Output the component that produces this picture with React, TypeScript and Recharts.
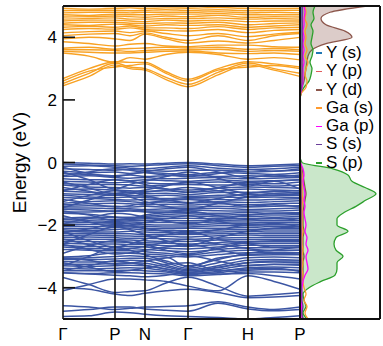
import React from 'react';
import { LineChart, Line, XAxis, YAxis, ReferenceLine, ComposedChart, Area, Legend, Label } from 'recharts';

const FONT = '"Liberation Sans", Arial, sans-serif';

// k-path sample positions (relative k-distance) and high-symmetry points
const kPoints = [0, 26, 52, 67, 82, 103, 125, 155, 185, 211, 237];
const kTicks = [0, 52, 82, 125, 185, 237];
const kLabels = ['Γ', 'P', 'N', 'Γ', 'H', 'P'];
const energyTicks = [-4, -2, 0, 2, 4];

// valence bands (eV) at kPoints
const valenceBands = [
  [0.00, -0.02, -0.05, -0.04, -0.05, -0.02, 0.00, -0.05, -0.10, -0.08, -0.05],
  [-0.05, -0.08, -0.10, -0.12, -0.10, -0.06, -0.04, -0.10, -0.15, -0.12, -0.10],
  [-0.12, -0.10, -0.15, -0.18, -0.20, -0.15, -0.10, -0.18, -0.22, -0.20, -0.15],
  [-0.20, -0.22, -0.25, -0.22, -0.25, -0.28, -0.25, -0.25, -0.30, -0.28, -0.25],
  [-0.28, -0.32, -0.30, -0.35, -0.32, -0.35, -0.38, -0.32, -0.35, -0.38, -0.33],
  [-0.35, -0.38, -0.42, -0.40, -0.45, -0.42, -0.40, -0.45, -0.42, -0.45, -0.40],
  [-0.45, -0.42, -0.48, -0.50, -0.48, -0.52, -0.50, -0.48, -0.52, -0.50, -0.48],
  [-0.52, -0.55, -0.55, -0.58, -0.55, -0.58, -0.60, -0.55, -0.60, -0.58, -0.55],
  [-0.60, -0.62, -0.65, -0.62, -0.65, -0.68, -0.65, -0.62, -0.65, -0.68, -0.62],
  [-0.68, -0.70, -0.70, -0.72, -0.75, -0.72, -0.70, -0.72, -0.70, -0.75, -0.72],
  [-0.72, -0.78, -0.80, -0.82, -0.80, -0.85, -0.88, -0.82, -0.78, -0.80, -0.82],
  [-0.88, -0.85, -0.88, -0.90, -0.92, -0.90, -0.95, -0.90, -0.85, -0.88, -0.90],
  [-0.92, -0.95, -0.98, -0.96, -1.00, -0.98, -1.02, -0.96, -0.95, -0.98, -0.96],
  [-1.00, -1.02, -1.05, -1.05, -1.08, -1.05, -1.08, -1.05, -1.02, -1.05, -1.05],
  [-1.05, -1.10, -1.12, -1.10, -1.12, -1.15, -1.12, -1.10, -1.12, -1.10, -1.12],
  [-1.12, -1.15, -1.18, -1.20, -1.18, -1.20, -1.16, -1.18, -1.20, -1.18, -1.16],
  [-1.30, -1.25, -1.22, -1.25, -1.28, -1.26, -1.30, -1.25, -1.28, -1.25, -1.22],
  [-1.35, -1.32, -1.30, -1.32, -1.35, -1.33, -1.36, -1.32, -1.35, -1.32, -1.30],
  [-1.40, -1.38, -1.40, -1.42, -1.40, -1.42, -1.42, -1.40, -1.42, -1.40, -1.38],
  [-1.45, -1.45, -1.48, -1.48, -1.50, -1.48, -1.48, -1.46, -1.50, -1.48, -1.45],
  [-1.50, -1.52, -1.55, -1.52, -1.55, -1.55, -1.52, -1.54, -1.55, -1.55, -1.52],
  [-1.58, -1.58, -1.56, -1.55, -1.58, -1.60, -1.60, -1.62, -1.60, -1.62, -1.60],
  [-1.62, -1.65, -1.74, -1.75, -1.72, -1.66, -1.64, -1.68, -1.66, -1.68, -1.66],
  [-1.78, -1.75, -1.76, -1.78, -1.76, -1.72, -1.70, -1.74, -1.72, -1.75, -1.72],
  [-1.82, -1.80, -1.82, -1.82, -1.80, -1.78, -1.78, -1.80, -1.78, -1.80, -1.78],
  [-1.88, -1.86, -1.88, -1.86, -1.85, -1.85, -1.86, -1.85, -1.84, -1.86, -1.85],
  [-1.94, -1.92, -1.92, -1.90, -1.92, -1.92, -1.92, -1.90, -1.90, -1.92, -1.92],
  [-2.00, -1.98, -1.96, -1.96, -1.98, -2.00, -2.00, -1.96, -1.96, -1.98, -1.98],
  [-2.04, -2.05, -2.02, -2.02, -2.04, -2.06, -2.06, -2.02, -2.02, -2.04, -2.04],
  [-2.10, -2.12, -2.08, -2.06, -2.10, -2.12, -2.10, -2.10, -2.08, -2.10, -2.10],
  [-2.15, -2.18, -2.14, -2.12, -2.16, -2.18, -2.18, -2.16, -2.14, -2.16, -2.16],
  [-2.20, -2.22, -2.22, -2.20, -2.22, -2.24, -2.24, -2.22, -2.20, -2.22, -2.22],
  [-2.28, -2.26, -2.28, -2.28, -2.30, -2.30, -2.30, -2.28, -2.26, -2.28, -2.28],
  [-2.34, -2.32, -2.34, -2.35, -2.36, -2.36, -2.38, -2.34, -2.32, -2.34, -2.34],
  [-2.40, -2.38, -2.40, -2.42, -2.42, -2.44, -2.45, -2.42, -2.40, -2.40, -2.40],
  [-2.46, -2.45, -2.46, -2.48, -2.50, -2.52, -2.52, -2.48, -2.46, -2.46, -2.46],
  [-2.52, -2.52, -2.54, -2.55, -2.56, -2.58, -2.60, -2.56, -2.52, -2.52, -2.52],
  [-2.58, -2.60, -2.60, -2.62, -2.62, -2.66, -2.68, -2.62, -2.58, -2.58, -2.58],
  [-2.64, -2.68, -2.68, -2.68, -2.70, -2.74, -2.76, -2.70, -2.64, -2.65, -2.65],
  [-2.70, -2.75, -2.76, -2.75, -2.78, -2.82, -2.85, -2.78, -2.72, -2.72, -2.72],
  [-2.78, -2.80, -2.82, -2.82, -2.85, -2.90, -2.95, -2.86, -2.80, -2.80, -2.80],
  [-3.02, -2.98, -2.88, -2.90, -2.92, -2.96, -3.02, -2.94, -2.88, -2.88, -2.88],
  [-3.06, -3.04, -3.00, -2.98, -3.00, -3.02, -3.34, -3.05, -2.96, -2.95, -2.95],
  [-3.10, -3.10, -3.08, -3.06, -3.06, -3.20, -3.38, -3.20, -3.04, -3.02, -3.04],
  [-3.16, -3.18, -3.15, -3.12, -3.14, -3.28, -3.42, -3.30, -3.12, -3.10, -3.12],
  [-3.24, -3.25, -3.22, -3.20, -3.22, -3.34, -3.46, -3.36, -3.20, -3.18, -3.20],
  [-3.30, -3.32, -3.30, -3.28, -3.30, -3.40, -3.50, -3.42, -3.28, -3.26, -3.28],
  [-3.38, -3.40, -3.38, -3.36, -3.38, -3.46, -3.54, -3.48, -3.36, -3.34, -3.36],
  [-3.46, -3.46, -3.45, -3.44, -3.46, -3.50, -3.58, -3.52, -3.44, -3.42, -3.44],
  [-3.52, -3.55, -3.52, -3.52, -3.54, -3.56, -3.62, -3.58, -3.50, -3.50, -3.52],
  [-0.30, -0.55, -0.85, -0.70, -0.60, -0.45, -0.30, -0.50, -0.75, -0.60, -0.85],
  [-1.45, -1.20, -1.00, -1.10, -1.25, -1.40, -1.50, -1.30, -1.10, -1.05, -1.00],
  [-2.20, -2.50, -2.70, -2.60, -2.45, -2.30, -2.20, -2.45, -2.60, -2.70, -2.70],
  [-3.30, -3.00, -2.70, -2.80, -2.95, -3.15, -3.30, -3.10, -2.90, -2.80, -2.70],
  [-0.90, -0.70, -0.55, -0.60, -0.70, -0.85, -0.95, -0.80, -0.65, -0.60, -0.55],
  [-2.60, -2.30, -2.05, -2.15, -2.30, -2.50, -2.65, -2.40, -2.20, -2.10, -2.05],
  [-0.15, -0.35, -0.45, -0.38, -0.30, -0.20, -0.15, -0.30, -0.48, -0.40, -0.45],
  [-1.25, -1.05, -0.90, -0.95, -1.05, -1.20, -1.28, -1.15, -0.98, -0.92, -0.90],
  [-1.70, -1.90, -2.05, -2.00, -1.92, -1.80, -1.70, -1.88, -2.00, -1.95, -2.05],
  [-2.90, -2.65, -2.50, -2.55, -2.62, -2.80, -2.92, -2.75, -2.55, -2.50, -2.50],
  [-3.45, -3.30, -3.15, -3.20, -3.28, -3.40, -3.52, -3.35, -3.20, -3.15, -3.15],
  [-0.62, -0.82, -1.00, -0.95, -0.88, -0.75, -0.62, -0.80, -0.98, -0.92, -1.00],
  [-0.80, -0.92, -1.05, -1.00, -0.95, -0.88, -0.80, -0.90, -1.08, -1.00, -1.05],
  [-1.18, -1.30, -1.42, -1.38, -1.30, -1.22, -1.18, -1.28, -1.40, -1.35, -1.42],
  [-1.55, -1.68, -1.85, -1.80, -1.68, -1.60, -1.55, -1.70, -1.82, -1.78, -1.85],
  [-2.25, -2.12, -1.98, -2.02, -2.10, -2.20, -2.28, -2.15, -2.00, -1.98, -1.98],
  [-2.62, -2.78, -2.92, -2.88, -2.80, -2.70, -2.62, -2.78, -2.95, -2.90, -2.92],
  [-3.20, -3.35, -3.48, -3.45, -3.38, -3.25, -3.20, -3.45, -3.40, -3.38, -3.48],
  [-0.42, -0.30, -0.20, -0.25, -0.32, -0.40, -0.45, -0.35, -0.22, -0.28, -0.20],
  [-1.95, -1.78, -1.62, -1.65, -1.75, -1.88, -1.96, -1.82, -1.68, -1.62, -1.62],
  [-2.45, -2.62, -2.80, -2.75, -2.68, -2.55, -2.45, -2.60, -2.75, -2.82, -2.80],
  [-3.05, -3.12, -3.25, -3.22, -3.15, -3.05, -2.98, -3.15, -3.30, -3.25, -3.25],
  [-3.67, -3.90, -4.15, -4.12, -4.10, -3.85, -3.67, -3.95, -4.27, -4.22, -4.15],
  [-4.10, -3.90, -3.72, -3.72, -3.75, -3.80, -3.95, -4.10, -3.62, -3.80, -4.05],
  [-3.52, -3.56, -3.60, -3.62, -3.65, -3.60, -3.52, -3.56, -3.55, -3.62, -3.72],
  [-4.00, -4.05, -4.20, -4.25, -4.18, -4.10, -4.05, -4.15, -4.32, -4.30, -4.25],
  [-4.58, -4.62, -4.70, -4.66, -4.62, -4.60, -4.58, -4.45, -4.62, -4.70, -4.62],
  [-4.75, -4.70, -4.62, -4.62, -4.68, -4.72, -4.75, -4.50, -4.68, -4.74, -4.70],
  [-4.92, -4.90, -4.78, -4.80, -4.85, -4.90, -4.92, -4.95, -5.00, -4.95, -4.90],
];

// conduction bands (eV) at kPoints
const conductionBands = [
  [2.45, 2.75, 3.12, 3.00, 2.95, 2.65, 2.42, 2.80, 3.12, 2.95, 2.75],
  [2.52, 2.85, 3.18, 3.05, 3.00, 2.72, 2.50, 2.88, 3.18, 3.00, 2.85],
  [2.60, 2.92, 3.05, 3.10, 3.15, 2.85, 2.60, 2.95, 3.05, 3.10, 3.00],
  [2.68, 3.00, 3.22, 3.20, 3.20, 2.90, 2.66, 3.00, 3.22, 3.15, 3.05],
  [3.50, 3.40, 3.20, 3.35, 3.30, 3.45, 3.52, 3.45, 3.30, 3.35, 3.28],
  [3.55, 3.52, 3.50, 3.50, 3.52, 3.55, 3.56, 3.50, 3.48, 3.50, 3.45],
  [3.60, 3.60, 3.58, 3.55, 3.58, 3.60, 3.60, 3.62, 3.55, 3.58, 3.55],
  [3.65, 3.68, 3.62, 3.64, 3.66, 3.68, 3.66, 3.68, 3.62, 3.64, 3.60],
  [3.86, 3.80, 3.72, 3.78, 3.80, 3.72, 3.70, 3.75, 3.75, 3.70, 3.68],
  [3.95, 4.00, 3.95, 3.90, 4.10, 3.95, 3.82, 3.88, 3.82, 3.90, 4.00],
  [4.05, 4.10, 4.12, 4.05, 4.14, 4.00, 3.90, 4.05, 3.90, 4.05, 4.12],
  [4.14, 4.18, 4.20, 4.15, 4.20, 4.12, 4.05, 4.12, 4.02, 4.10, 4.16],
  [4.25, 4.28, 4.26, 4.30, 4.25, 4.22, 4.20, 4.25, 4.15, 4.22, 4.25],
  [4.32, 4.35, 4.32, 4.36, 4.30, 4.30, 4.28, 4.34, 4.25, 4.30, 4.32],
  [4.40, 4.38, 4.42, 4.40, 4.36, 4.40, 4.38, 4.40, 4.32, 4.36, 4.40],
  [4.45, 4.48, 4.48, 4.45, 4.44, 4.46, 4.45, 4.48, 4.40, 4.44, 4.46],
  [4.52, 4.55, 4.55, 4.52, 4.50, 4.55, 4.52, 4.55, 4.50, 4.52, 4.52],
  [4.58, 4.60, 4.62, 4.58, 4.58, 4.60, 4.60, 4.62, 4.58, 4.60, 4.58],
  [4.65, 4.66, 4.68, 4.66, 4.64, 4.68, 4.66, 4.70, 4.64, 4.66, 4.65],
  [4.72, 4.70, 4.74, 4.72, 4.72, 4.74, 4.74, 4.76, 4.72, 4.72, 4.72],
  [4.78, 4.80, 4.80, 4.78, 4.80, 4.80, 4.80, 4.82, 4.78, 4.80, 4.78],
  [4.85, 4.86, 4.86, 4.85, 4.86, 4.88, 4.86, 4.88, 4.85, 4.86, 4.86],
  [4.92, 4.90, 4.92, 4.94, 4.92, 4.94, 4.93, 4.95, 4.92, 4.92, 4.92],
  [4.98, 5.00, 4.98, 5.00, 4.98, 5.00, 4.98, 5.02, 4.98, 5.00, 4.98],
];

// projected DOS (energy grid, eV) and components
const dosEnergy = [-5.0, -4.8, -4.6, -4.4, -4.2, -4.0, -3.8, -3.6, -3.4, -3.2, -3.0, -2.8, -2.6, -2.4, -2.2, -2.0, -1.8, -1.6, -1.4, -1.2, -1.0, -0.8, -0.6, -0.4, -0.2, 0.0, 0.2, 0.4, 0.6, 0.8, 1.0, 1.2, 1.4, 1.6, 1.8, 2.0, 2.2, 2.4, 2.6, 2.8, 3.0, 3.2, 3.4, 3.6, 3.8, 4.0, 4.2, 4.4, 4.6, 4.8, 5.0];
const dosYs = [0.6, 0.5, 0.6, 0.5, 0.5, 0.6, 0.7, 0.8, 0.8, 0.7, 0.8, 0.7, 0.7, 0.8, 0.8, 0.7, 0.7, 0.7, 0.8, 0.8, 0.9, 0.8, 0.7, 0.6, 0.5, 0.2, 0, 0, 0, 0, 0, 0, 0, 0, 0, 0, 0.2, 0.6, 0.8, 0.8, 0.9, 0.9, 1.0, 1.0, 1.1, 1.0, 1.1, 1.0, 1.1, 1.2, 1.1];
const dosYp = [1.0, 0.8, 1.0, 0.8, 0.8, 1.0, 1.2, 1.4, 1.4, 1.3, 1.5, 1.3, 1.3, 1.4, 1.5, 1.3, 1.3, 1.3, 1.5, 1.6, 1.8, 1.6, 1.4, 1.2, 1.0, 0.3, 0, 0, 0, 0, 0, 0, 0, 0, 0, 0, 0.3, 1.2, 1.6, 1.8, 2.0, 2.0, 2.2, 2.2, 2.4, 2.2, 2.4, 2.2, 2.4, 2.5, 2.4];
const dosYd = [3, 2, 2, 1, 1, 1, 2, 3, 3, 3, 4, 3, 3, 3, 4, 3, 3, 3, 4, 5, 6, 5, 4, 3, 2, 0.5, 0, 0, 0, 0, 0, 0, 0, 0, 0, 0, 1, 2, 4, 5, 6, 7, 8, 12, 26, 52, 45, 26, 21, 30, 67];
const dosGas = [8, 5, 7, 4, 6, 4, 3, 3, 2, 3, 2, 3, 2, 2, 3, 2, 2, 2, 2, 3, 2, 2, 2, 2, 1, 0.3, 0, 0, 0, 0, 0, 0, 0, 0, 0, 0, 1, 6, 7, 5, 6, 8, 5, 7, 5, 6, 5, 7, 5, 6, 5];
const dosGap = [1, 1, 1.5, 1, 1.5, 2, 3, 5, 8, 7, 6, 8, 6, 7, 5, 6, 5, 4, 5, 4, 5, 4, 3, 4, 3, 0.5, 0, 0, 0, 0, 0, 0, 0, 0, 0, 0, 0.5, 2, 3, 3, 3, 4, 3, 4, 3, 4, 3, 4, 4, 5, 4];
const dosSs = [3, 2, 3, 2, 2, 1.5, 1, 1, 1, 1, 1, 1, 1, 1, 1, 1, 1, 1, 1, 1, 1, 1, 1, 1, 0.8, 0.3, 0, 0, 0, 0, 0, 0, 0, 0, 0, 0, 0.3, 1.5, 2, 2, 2.2, 2, 2.2, 2, 2.2, 2.4, 2.2, 2.4, 2.2, 2.5, 2.4];
const dosSp = [7, 3, 6, 4, 3, 9, 21, 35, 37, 37, 43, 36, 34, 36, 48, 37, 37, 44, 56, 66, 76, 65, 52, 48, 33, 2, 0, 0, 0, 0, 0, 0, 0, 0, 0, 0, 1, 4, 9, 11, 12, 10, 12, 13, 11, 12, 13, 11, 14, 13, 15];

const pdosNames = ['Y (s)', 'Y (p)', 'Y (d)', 'Ga (s)', 'Ga (p)', 'S (s)', 'S (p)'];
const pdosKeys = ['ys', 'yp', 'yd', 'gas', 'gap', 'ss', 'sp'];
const pdosColors = ['#1f77b4', '#e05a5a', '#8c564b', '#ff9a2e', '#ff00ff', '#6a3d9a', '#2ca02c'];
const pdosValues = [dosYs, dosYp, dosYd, dosGas, dosGap, dosSs, dosSp];

const VB_COLOR = '#3b55a3';
const CB_COLOR = '#f8a224';
const FRAME = '#111';

const bandRows = kPoints.map((k, i) => {
  const row: Record<string, number> = { k };
  valenceBands.forEach((b, j) => { row['v' + j] = b[i]; });
  conductionBands.forEach((b, j) => { row['c' + j] = b[i]; });
  return row;
});

const dosRows = dosEnergy.map((e, i) => {
  const row: Record<string, number> = { e };
  pdosKeys.forEach((key, j) => { row[key] = pdosValues[j][i]; });
  return row;
});

const fmtE = (v: number) => (v < 0 ? '\u2212' + Math.abs(v) : String(v));

const LeftTick = (props: any) => {
  const { x, y, payload } = props;
  return (
    <g>
      <line x1={x} x2={x + 12} y1={y} y2={y} stroke={FRAME} strokeWidth={1.6} />
      <text x={x - 6} y={y} dy="0.36em" textAnchor="end" fontSize={17} fontFamily={FONT} fill="#000">
        {fmtE(payload.value)}
      </text>
    </g>
  );
};

const RightTick = (props: any) => {
  const { x, y } = props;
  return <line x1={x - 12} x2={x} y1={y} y2={y} stroke={FRAME} strokeWidth={1.6} />;
};

const DosTick = (props: any) => {
  const { x, y } = props;
  return <line x1={x} x2={x + 14} y1={y} y2={y} stroke={FRAME} strokeWidth={1.6} />;
};

const BottomTick = (props: any) => {
  const { x, y, payload } = props;
  const idx = kTicks.indexOf(payload.value);
  return (
    <text x={x} y={y + 21} textAnchor="middle" fontSize={17} fontFamily={FONT} fill="#000">
      {kLabels[idx]}
    </text>
  );
};

const renderLegend = () => (
  <div style={{ fontFamily: FONT, fontSize: 17, lineHeight: '18.3px', color: '#000' }}>
    {pdosNames.map((n, i) => (
      <div key={n} style={{ display: 'flex', alignItems: 'center', whiteSpace: 'nowrap' }}>
        <span style={{ display: 'inline-block', width: 6, height: 1.6, background: pdosColors[i], marginRight: 4 }} />
        {n}
      </div>
    ))}
  </div>
);

export default function App() {
  return (
    <div style={{ position: 'absolute', left: 0, top: 0, width: 383, height: 346, background: '#fff' }}>
      <div style={{ position: 'absolute', left: 0, top: 0 }}>
        <LineChart width={383} height={346} data={bandRows} margin={{ top: 6, right: 83, bottom: 0, left: 0 }}>
          <XAxis
            type="number"
            dataKey="k"
            domain={[0, 237]}
            ticks={kTicks}
            interval={0}
            height={27}
            tickLine={false}
            axisLine={false}
            tickSize={0}
            tickMargin={0}
            tick={<BottomTick />}
            allowDataOverflow
          />
          <YAxis
            type="number"
            domain={[-5, 5]}
            ticks={energyTicks}
            width={63}
            tickLine={false}
            axisLine={false}
            tickSize={0}
            tickMargin={0}
            tick={<LeftTick />}
            allowDataOverflow
          >
            <Label
              content={(p: any) => {
                const vb = p.viewBox || { x: 0, y: 6, width: 63, height: 313 };
                const cx = vb.x + 19;
                const cy = vb.y + vb.height / 2;
                return (
                  <text x={cx} y={cy} transform={`rotate(-90 ${cx} ${cy})`} textAnchor="middle" dominantBaseline="central" fontSize={19} fontFamily={FONT} fill="#000">
                    Energy (eV)
                  </text>
                );
              }}
            />
          </YAxis>
          <YAxis
            yAxisId="right"
            orientation="right"
            type="number"
            domain={[-5, 5]}
            ticks={energyTicks}
            width={0}
            tickLine={false}
            axisLine={false}
            tickSize={0}
            tickMargin={0}
            tick={<RightTick />}
            allowDataOverflow
          />
          {valenceBands.map((_, j) => (
            <Line key={'v' + j} dataKey={'v' + j} type="monotone" stroke={VB_COLOR} strokeWidth={1.5} dot={false} isAnimationActive={false} />
          ))}
          {conductionBands.map((_, j) => (
            <Line key={'c' + j} dataKey={'c' + j} type="monotone" stroke={CB_COLOR} strokeWidth={1.4} dot={false} isAnimationActive={false} />
          ))}
          {kTicks.map((k, i) => (
            <ReferenceLine key={'kl' + i} x={k} stroke={FRAME} strokeWidth={1.6} />
          ))}
          <ReferenceLine y={5} stroke={FRAME} strokeWidth={2} />
          <ReferenceLine y={-5} stroke={FRAME} strokeWidth={2} />
        </LineChart>
      </div>
      <div style={{ position: 'absolute', left: 0, top: 0 }}>
        <ComposedChart layout="vertical" width={383} height={346} data={dosRows} margin={{ top: 6, right: 3, bottom: 27, left: 300 }}>
          <XAxis type="number" domain={[0, 80]} hide allowDataOverflow />
          <YAxis
            type="number"
            dataKey="e"
            domain={[-5, 5]}
            reversed
            ticks={energyTicks}
            width={0}
            tickLine={false}
            axisLine={false}
            tickSize={0}
            tickMargin={0}
            tick={<DosTick />}
            allowDataOverflow
          />
          <Line dataKey="ys" name="Y (s)" type="monotone" stroke={pdosColors[0]} strokeWidth={1.2} dot={false} isAnimationActive={false} />
          <Line dataKey="yp" name="Y (p)" type="monotone" stroke={pdosColors[1]} strokeWidth={1.2} dot={false} isAnimationActive={false} />
          <Area dataKey="yd" name="Y (d)" type="monotone" stroke={pdosColors[2]} strokeWidth={1.3} fill={pdosColors[2]} fillOpacity={0.3} isAnimationActive={false} />
          <Line dataKey="gas" name="Ga (s)" type="monotone" stroke={pdosColors[3]} strokeWidth={1.3} dot={false} isAnimationActive={false} />
          <Line dataKey="gap" name="Ga (p)" type="monotone" stroke={pdosColors[4]} strokeWidth={1.3} dot={false} isAnimationActive={false} />
          <Line dataKey="ss" name="S (s)" type="monotone" stroke={pdosColors[5]} strokeWidth={1.3} dot={false} isAnimationActive={false} />
          <Area dataKey="sp" name="S (p)" type="monotone" stroke={pdosColors[6]} strokeWidth={1.3} fill={pdosColors[6]} fillOpacity={0.25} isAnimationActive={false} />
          <ReferenceLine x={0} stroke={FRAME} strokeWidth={2} />
          <ReferenceLine x={80} stroke={FRAME} strokeWidth={2} />
          <ReferenceLine y={5} stroke={FRAME} strokeWidth={2} />
          <ReferenceLine y={-5} stroke={FRAME} strokeWidth={2} />
          <Legend
            layout="vertical"
            align="center"
            verticalAlign="middle"
            content={renderLegend}
            wrapperStyle={{ left: 316, top: 44, width: 70, right: 'auto', bottom: 'auto' }}
          />
        </ComposedChart>
      </div>
    </div>
  );
}
